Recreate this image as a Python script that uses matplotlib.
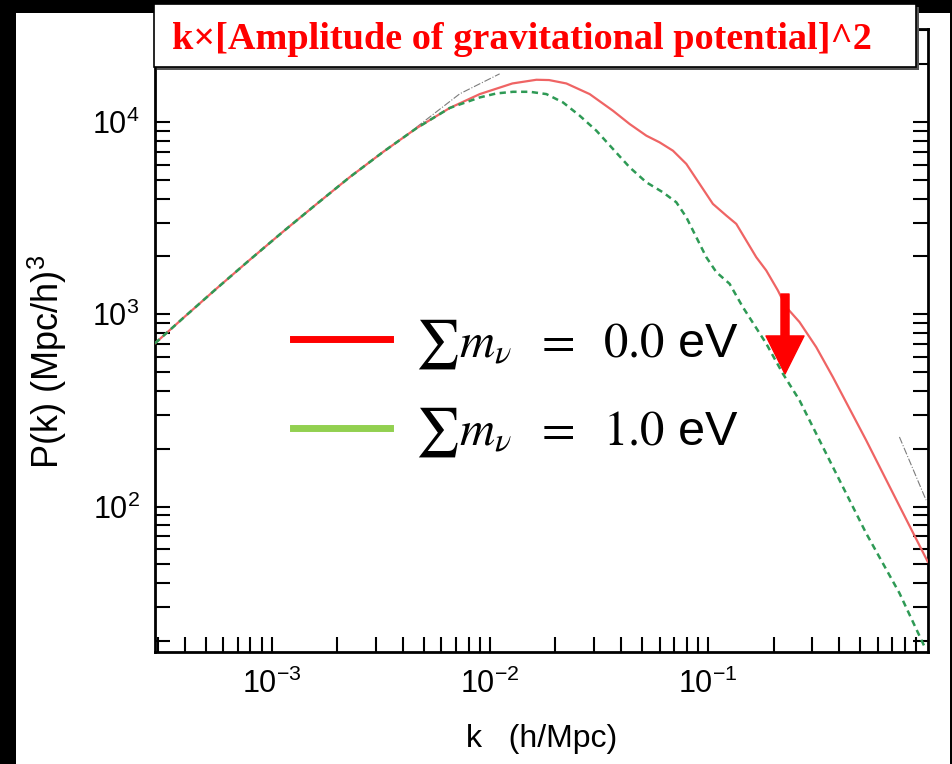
import numpy as np
import matplotlib
matplotlib.use("Agg")
import matplotlib.pyplot as plt
from matplotlib.patches import Rectangle
from matplotlib.lines import Line2D
from matplotlib.ticker import NullFormatter

plt.rcParams['font.family'] = ['Liberation Sans', 'DejaVu Sans']
plt.rcParams['mathtext.fontset'] = 'stix'

# large-scale part, identical for both neutrino masses
k_low = [2.92e-4, 3.94e-4, 5.6e-4, 7.96e-4, 1.13e-3, 1.61e-3, 2.28e-3, 3.25e-3, 4.61e-3, 6.56e-3]
P_low = [706, 958, 1363, 1925, 2695, 3752, 5169, 7006, 9290, 11850]

# sum m_nu = 0.0 eV
k_m00 = [9.0e-3, 1.27e-2, 1.637e-2, 1.87e-2, 2.245e-2, 2.871e-2, 3.671e-2, 4.378e-2, 5.222e-2,
         6.008e-2, 6.914e-2, 7.964e-2, 9.162e-2, 0.1054, 0.1214, 0.1349, 0.1499, 0.1666,
         0.1851, 0.2093, 0.2286, 0.263, 0.3137, 0.3738, 0.5316, 0.7554, 1.018]
P_m00 = [13990, 15890, 16610, 16550, 15890, 13990, 11460, 9775, 8500,
         7845, 7101, 6059, 4770, 3754, 3265, 2955, 2421, 1982,
         1691, 1331, 1090, 911, 675, 472, 221, 100.5, 51.6]

# sum m_nu = 1.0 eV
k_m10 = [9.0e-3, 1.073e-2, 1.279e-2, 1.525e-2, 1.818e-2, 2.167e-2, 2.584e-2, 3.082e-2, 3.671e-2,
         4.378e-2, 5.222e-2, 6.22e-2, 7.165e-2, 7.964e-2, 8.849e-2, 9.833e-2, 0.1093, 0.1257,
         0.1446, 0.1851, 0.2206, 0.263, 0.3738, 0.5316, 0.7554, 0.983]
P_m10 = [13440, 14100, 14380, 14380, 13990, 12660, 10800, 9023, 7250,
         5818, 4862, 4313, 3827, 3198, 2518, 1982, 1657, 1442,
         1090, 704, 491, 357, 160.8, 72.5, 35.4, 18.7]

# faint reference curve pieces (dash-dot)
k_ref1 = [4.61e-3, 7.29e-3, 1.11e-2]
P_ref1 = [9400, 14040, 17830]
k_ref2 = [0.755, 1.0]
P_ref2 = [230, 108]

labels = [r'$\sum m_{\nu}\;\ =\;\ 0.0$ eV', r'$\sum m_{\nu}\;\ =\;\ 1.0$ eV']
title = 'k×[Amplitude of gravitational potential]^2'

fig = plt.figure(figsize=(9.53, 7.64), dpi=100, facecolor='black')
# white page on the black background
fig.patches.append(Rectangle((0.0168, 0.0), 0.980, 0.983, transform=fig.transFigure,
                             facecolor='white', edgecolor='none', zorder=-10))

ax = fig.add_axes([0.1626, 0.1466, 0.8111, 0.8154])
ax.set_xscale('log')
ax.set_yscale('log')

ax.plot(k_low + k_m00, P_low + P_m00, color='#ef6464', lw=1.6, zorder=3)
ax.plot(k_low + k_m10, P_low + P_m10, color='#2e9a55', lw=1.8, ls=(0, (2.5, 1.8)), zorder=4)
ax.plot(k_ref1, P_ref1, color='#444444', lw=0.8, ls='-.', alpha=0.7, zorder=2)
ax.plot(k_ref2, P_ref2, color='#444444', lw=0.8, ls='-.', alpha=0.7, zorder=2)

ax.set_xlim(2.92e-4, 1.02)
ax.set_ylim(17.5, 3.05e4)
ax.set_xticks([1e-3, 1e-2, 1e-1])
ax.set_yticks([1e2, 1e3, 1e4])

ax.tick_params(which='both', direction='in', top=True, right=True, length=10.5, width=1.5,
               labelsize=22)
ax.tick_params(axis='x', pad=12)
ax.tick_params(axis='y', pad=11)
ax.xaxis.set_minor_formatter(NullFormatter())
ax.yaxis.set_minor_formatter(NullFormatter())
for sp in ax.spines.values():
    sp.set_linewidth(2)

ax.set_xlabel('k   (h/Mpc)', fontsize=23)
ax.set_ylabel(r'P(k) (Mpc/h)$^{\mathregular{3}}$', fontsize=26)
ax.xaxis.set_label_coords(0.5, -0.116)
ax.yaxis.set_label_coords(-0.113, 0.465)

handles = [Line2D([], [], color='#ff0000', lw=5),
           Line2D([], [], color='#92d050', lw=5)]
ax.legend(handles, labels, loc='upper left', bbox_to_anchor=(0.122, 0.608), frameon=False,
          fontsize=35, handlelength=2.0, handletextpad=0.51, labelspacing=0.71)

# red arrow pointing at the suppression
ax.annotate('', xy=(785 / 953, 1 - 374 / 764), xytext=(785 / 953, 1 - 294 / 764),
            xycoords='figure fraction', textcoords='figure fraction',
            arrowprops=dict(arrowstyle='simple,head_length=2.74,head_width=2.74,tail_width=0.58',
                            color='#ff0000', shrinkA=0, shrinkB=0, mutation_scale=10))

# title box with shadow
fig.patches.append(Rectangle((0.1648, 0.9084), 0.7996, 0.0825, transform=fig.transFigure,
                             facecolor='#555555', edgecolor='none', zorder=5))
fig.patches.append(Rectangle((0.1616, 0.9123), 0.7996, 0.0825, transform=fig.transFigure,
                             facecolor='white', edgecolor='black', lw=1.2, zorder=6))
fig.text(0.5472, 0.9359, title, color='#ff0000', fontsize=27.5, fontweight='bold',
         family=['Liberation Serif', 'DejaVu Serif'], ha='center', va='baseline', zorder=7)

fig.savefig('out.png', dpi=100, facecolor=fig.get_facecolor())
